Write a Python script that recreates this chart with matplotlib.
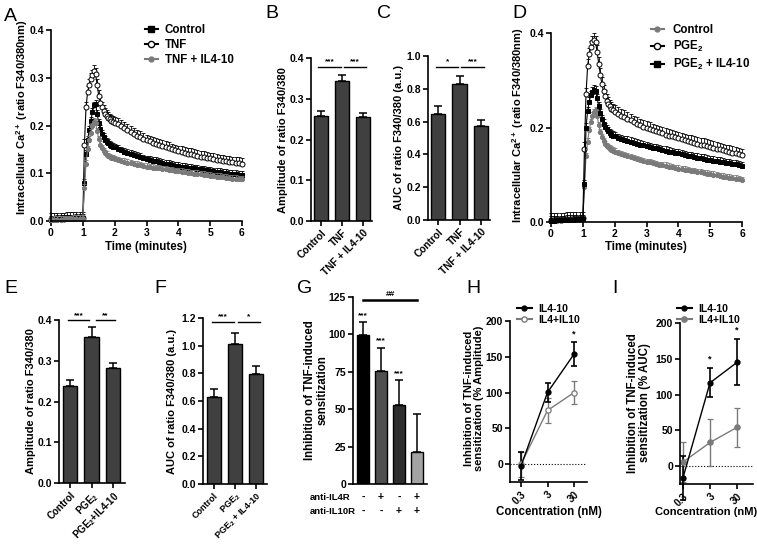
import numpy as np
import matplotlib
matplotlib.use("Agg")
import matplotlib.pyplot as plt
from matplotlib.lines import Line2D

plt.rcParams['font.family'] = ['Liberation Sans', 'DejaVu Sans']
plt.rcParams['font.weight'] = 'bold'
plt.rcParams['axes.labelweight'] = 'bold'
plt.rcParams['mathtext.fontset'] = 'custom'
plt.rcParams['mathtext.rm'] = 'Liberation Sans:bold'
plt.rcParams['mathtext.bf'] = 'Liberation Sans:bold'
plt.rcParams['mathtext.default'] = 'bf'

# ---- time course data (minutes) ----
t = np.round(np.concatenate([np.arange(0, 1.01, 0.1),
                             np.arange(1.05, 2.01, 0.05),
                             np.arange(2.1, 6.01, 0.1)]), 2)

a_control = [0.003, 0.003, 0.004, 0.004, 0.004, 0.005, 0.005, 0.005, 0.006, 0.006, 0.006,
             0.080, 0.140, 0.170, 0.190, 0.210, 0.228, 0.242, 0.245, 0.225, 0.205, 0.193, 0.183, 0.176, 0.170,
             0.166, 0.163, 0.160, 0.158, 0.156, 0.154,
             .151, .148, .145, .143, .141, .138, .136, .134, .131, .129, .128, .126, .125, .123, .122, .120,
             .119, .118, .116, .115, .114, .113, .112, .111, .110, .109, .108, .107, .106, .105, .104, .103,
             .102, .101, .100, .099, .098, .098, .097, .096]
a_tnf = [0.004, 0.004, 0.005, 0.005, 0.005, 0.006, 0.006, 0.006, 0.007, 0.007, 0.007,
         0.160, 0.238, 0.270, 0.285, 0.297, 0.305, 0.314, 0.308, 0.285, 0.262, 0.248, 0.238, 0.230, 0.224,
         0.220, 0.216, 0.213, 0.210, 0.208, 0.206,
         .203, .199, .195, .191, .187, .183, .179, .176, .172, .169, .167, .164, .162, .159, .157, .155,
         .153, .150, .148, .146, .145, .143, .141, .140, .138, .137, .135, .134, .132, .131, .130, .128,
         .127, .126, .125, .124, .123, .122, .121, .120]
a_tnf_il = [0.002, 0.003, 0.003, 0.003, 0.004, 0.004, 0.004, 0.005, 0.005, 0.005, 0.005,
            0.070, 0.120, 0.150, 0.170, 0.185, 0.198, 0.208, 0.206, 0.188, 0.172, 0.160, 0.152, 0.146, 0.142,
            0.139, 0.136, 0.134, 0.132, 0.131, 0.129,
            .127, .125, .124, .122, .121, .119, .118, .117, .115, .114, .113, .112, .111, .110, .109, .108,
            .107, .106, .105, .104, .103, .102, .101, .100, .099, .099, .098, .097, .096, .095, .094, .093,
            .093, .092, .091, .090, .089, .089, .088, .087]
a_sem = [0.008, 0.012, 0.007]

d_control = [0.002, 0.003, 0.002, 0.003, 0.004, 0.004, 0.004, 0.005, 0.005, 0.005, 0.006,
             0.075, 0.140, 0.170, 0.195, 0.212, 0.225, 0.233, 0.236, 0.225, 0.205, 0.190, 0.179, 0.171, 0.165,
             0.161, 0.158, 0.155, 0.153, 0.151, 0.149,
             .146, .143, .141, .139, .137, .135, .133, .131, .129, .127, .126, .124, .123, .121, .120, .119,
             .117, .116, .114, .113, .112, .111, .109, .108, .107, .106, .105, .104, .102, .101, .100, .099,
             .097, .096, .095, .094, .093, .092, .090, .089]
d_pge = [0.005, 0.005, 0.006, 0.006, 0.006, 0.007, 0.007, 0.007, 0.008, 0.008, 0.008,
         0.155, 0.270, 0.330, 0.355, 0.370, 0.380, 0.385, 0.380, 0.360, 0.335, 0.312, 0.292, 0.277, 0.266,
         0.257, 0.250, 0.245, 0.240, 0.236, 0.233,
         .229, .225, .222, .218, .215, .211, .208, .205, .202, .199, .197, .194, .192, .190, .188, .185,
         .183, .181, .179, .177, .175, .173, .171, .170, .168, .166, .164, .163, .161, .159, .157, .155,
         .154, .152, .150, .149, .147, .145, .143, .141]
d_pge_il = [0.003, 0.003, 0.004, 0.004, 0.004, 0.005, 0.005, 0.005, 0.006, 0.006, 0.006,
            0.080, 0.200, 0.235, 0.255, 0.268, 0.276, 0.280, 0.278, 0.262, 0.245, 0.230, 0.218, 0.208, 0.201,
            0.196, 0.192, 0.188, 0.185, 0.183, 0.181,
            .178, .176, .174, .172, .170, .168, .166, .164, .163, .161, .159, .157, .156, .154, .152, .151,
            .149, .148, .146, .145, .143, .142, .140, .139, .137, .136, .135, .134, .132, .131, .130, .129,
            .128, .126, .125, .124, .123, .122, .120, .119]
d_sem = [0.007, 0.014, 0.009]

# ---- bar data ----
b_labels = ['Control', 'TNF', 'TNF + IL4-10']
b_vals = [0.258, 0.343, 0.254]
b_err = [0.013, 0.016, 0.012]
c_vals = [0.649, 0.831, 0.575]
c_err = [0.046, 0.047, 0.037]
e_labels = ['Control', r'PGE$_2$', r'PGE$_2$+IL4-10']
e_vals = [0.238, 0.359, 0.281]
e_err = [0.015, 0.023, 0.014]
f_labels = ['Control', r'PGE$_2$', r'PGE$_2$ + IL4-10']
f_vals = [0.629, 1.015, 0.797]
f_err = [0.055, 0.079, 0.053]
g_vals = [99.8, 75.3, 53.1, 21.6]
g_err = [8.4, 15.8, 16.2, 25.4]
g_colors = ['#000000', '#505050', '#2e2e2e', '#a3a3a3']
g_il4r = ['-', '+', '-', '+']
g_il10r = ['-', '-', '+', '+']

# ---- dose response ----
conc = [0.3, 3, 30]
conc_labels = ['0.3', '3', '30']
h_fused = [-2.8, 100.2, 153.8]
h_fused_err = [19.5, 13.5, 16.5]
h_mix = [0.0, 75.0, 100.0]
h_mix_err = [17.5, 17.5, 16.0]
i_fused = [-16.4, 116.4, 145.0]
i_fused_err = [31.0, 20.3, 32.0]
i_mix = [5.6, 33.0, 54.2]
i_mix_err = [27.5, 32.5, 27.5]

W, H = 757, 544
fig = plt.figure(figsize=(W / 100, H / 100), dpi=100)


def add_ax(l, r, top, b):
    return fig.add_axes([l / W, 1 - b / H, (r - l) / W, (b - top) / H])


def style(ax):
    for s in ['top', 'right']:
        ax.spines[s].set_visible(False)
    for s in ['left', 'bottom']:
        ax.spines[s].set_linewidth(1.2)
    ax.tick_params(direction='out', length=3.5, width=1.2, labelsize=7.5, pad=1.5)


def ylab(x, y, s, size=8):
    fig.text(x / W, 1 - y / H, s, rotation=90, ha='center', va='center',
             fontsize=size, fontweight='bold', linespacing=1.1)


def xlab(x, y, s, size=8.3):
    fig.text(x / W, 1 - y / H, s, ha='center', va='center', fontsize=size, fontweight='bold')


def letter(x, y, s):
    fig.text(x / W, 1 - y / H, s, ha='left', va='top', fontsize=14, fontweight='normal')


def trace(ax, y, sem, marker, mfc, color, ms):
    y = np.array(y)
    ax.errorbar(t, y, yerr=[np.zeros_like(y), np.full_like(y, sem)], fmt='none', ecolor=color,
                elinewidth=0.6, capsize=1.3, capthick=0.6, clip_on=False)
    ax.plot(t, y, marker=marker, color=color, mfc=mfc, mec=color, ms=ms, lw=0.8, mew=0.7, clip_on=False)


def time_panel(ax, series, ymax, yticks):
    style(ax)
    for y, sem, mk, mfc, col, ms in series:
        trace(ax, y, sem, mk, mfc, col, ms)
    ax.set_xlim(0, 6)
    ax.set_ylim(0, ymax)
    ax.set_xticks(range(7))
    ax.set_yticks(yticks)
    ax.set_yticklabels(['%.1f' % v for v in yticks])


def bar_panel(ax, vals, errs, labels, ymax, yticks, fmt='%.1f', colors='#404040', width=0.66,
              xlim=(-0.47, 2.42), lsize=7.3):
    style(ax)
    x = np.arange(len(vals))
    ax.bar(x, vals, width=width, color=colors, edgecolor='black', linewidth=1)
    ax.errorbar(x, vals, yerr=[np.zeros(len(vals)), errs], fmt='none', ecolor='black',
                elinewidth=1.1, capsize=3, capthick=1.1)
    ax.set_xlim(*xlim)
    ax.set_ylim(0, ymax)
    ax.set_yticks(yticks)
    ax.set_yticklabels([fmt % v for v in yticks])
    ax.set_xticks(x)
    if labels is not None:
        ax.set_xticklabels(labels, rotation=45, ha='right', rotation_mode='anchor', fontsize=lsize)
    else:
        ax.set_xticklabels([])


def sig(ax, x0, x1, y, s, dy):
    ax.plot([x0, x1], [y, y], color='black', lw=1, clip_on=False)
    ax.text((x0 + x1) / 2, y + dy, s, ha='center', va='bottom', fontsize=6, fontweight='bold')


# ---- A ----
axA = add_ax(51, 242, 30, 221)
time_panel(axA, [(a_control, a_sem[0], 's', 'black', 'black', 3.2),
                 (a_tnf, a_sem[1], 'o', 'white', 'black', 3.6),
                 (a_tnf_il, a_sem[2], 'o', '#7a7a7a', '#7a7a7a', 3.0)],
           0.4, [0.0, 0.1, 0.2, 0.3, 0.4])
hA = [Line2D([], [], color='black', marker='s', ms=4, mfc='black'),
      Line2D([], [], color='black', marker='o', ms=4.5, mfc='white'),
      Line2D([], [], color='#7a7a7a', marker='o', ms=3.5, mfc='#7a7a7a')]
axA.legend(hA, ['Control', 'TNF', 'TNF + IL4-10'], loc='upper left', bbox_to_anchor=(145 / W, 1 - 24 / H),
           bbox_transform=fig.transFigure, frameon=False, fontsize=8.3, handlelength=1.1,
           handletextpad=0.6, labelspacing=0.25, borderaxespad=0, borderpad=0)
ylab(22, 117, 'Intracellular Ca$^{2+}$ (ratio F340/380nm)')
xlab(146, 247, 'Time (minutes)')

# ---- B ----
axB = add_ax(311, 372, 58, 221)
bar_panel(axB, b_vals, b_err, b_labels, 0.4, [0.0, 0.1, 0.2, 0.3, 0.4])
sig(axB, -0.12, 0.95, 0.378, '***', 0.004)
sig(axB, 1.08, 2.15, 0.378, '***', 0.004)
ylab(283, 140, 'Amplitude of ratio F340/380')

# ---- C ----
axC = add_ax(428, 490, 56, 220)
bar_panel(axC, c_vals, c_err, b_labels, 1.0, [0.0, 0.2, 0.4, 0.6, 0.8, 1.0])
sig(axC, -0.1, 0.95, 0.934, '*', 0.01)
sig(axC, 1.08, 2.15, 0.934, '***', 0.01)
ylab(399, 138, 'AUC of ratio F340/380 (a.u.)')

# ---- D ----
axD = add_ax(551, 742, 33, 222)
time_panel(axD, [(d_control, d_sem[0], 'o', '#7a7a7a', '#7a7a7a', 3.0),
                 (d_pge, d_sem[1], 'o', 'white', 'black', 3.6),
                 (d_pge_il, d_sem[2], 's', 'black', 'black', 3.2)],
           0.4, [0.0, 0.2, 0.4])
hD = [Line2D([], [], color='#7a7a7a', marker='o', ms=3.5, mfc='#7a7a7a'),
      Line2D([], [], color='black', marker='o', ms=4.5, mfc='white'),
      Line2D([], [], color='black', marker='s', ms=4, mfc='black')]
axD.legend(hD, ['Control', r'PGE$_2$', r'PGE$_2$ + IL4-10'], loc='upper left',
           bbox_to_anchor=(651 / W, 1 - 24 / H), bbox_transform=fig.transFigure, frameon=False,
           fontsize=8.3, handlelength=1.1, handletextpad=0.8, labelspacing=0.25, borderaxespad=0, borderpad=0)
ylab(518, 125, 'Intracellular Ca$^{2+}$ (ratio F340/380nm)')
xlab(646, 247, 'Time (minutes)')

# ---- E ----
axE = add_ax(59, 125, 320, 483)
bar_panel(axE, e_vals, e_err, e_labels, 0.4, [0.0, 0.1, 0.2, 0.3, 0.4], xlim=(-0.51, 2.55), lsize=7)
sig(axE, -0.1, 0.9, 0.399, '***', 0.004)
sig(axE, 1.2, 2.1, 0.399, '**', 0.004)
ylab(31, 401, 'Amplitude of ratio F340/380')

# ---- F ----
axF = add_ax(203, 267, 318, 484)
bar_panel(axF, f_vals, f_err, f_labels, 1.2, [0.0, 0.2, 0.4, 0.6, 0.8, 1.0, 1.2], xlim=(-0.5, 2.5),
          lsize=6.5)
sig(axF, -0.1, 0.95, 1.17, '***', 0.012)
sig(axF, 1.15, 2.15, 1.17, '*', 0.012)
ylab(172, 401, 'AUC of ratio F340/380 (a.u.)')

# ---- G ----
axG = add_ax(353, 427, 297, 484)
bar_panel(axG, g_vals, g_err, None, 125, [0, 25, 50, 75, 100, 125], fmt='%d',
          colors=g_colors, width=0.7, xlim=(-0.55, 3.55))
axG.tick_params(axis='x', length=0)
for i, v in enumerate(g_vals[:3]):
    axG.text(i, v + g_err[i] + 2, '***', ha='center', va='bottom', fontsize=6, fontweight='bold')
axG.plot([0, 3], [122.8, 122.8], color='black', lw=1.8, clip_on=False)
axG.text(1.5, 124.5, '##', ha='center', va='bottom', fontsize=6, fontweight='bold')
for i in range(4):
    fig.text((363 + 18 * i) / W, 1 - 497 / H, g_il4r[i], ha='center', va='center', fontsize=7.5, fontweight='bold')
    fig.text((363 + 18 * i) / W, 1 - 511 / H, g_il10r[i], ha='center', va='center', fontsize=7.5, fontweight='bold')
fig.text(310 / W, 1 - 497 / H, 'anti-IL4R', ha='left', va='center', fontsize=6.8, fontweight='bold')
fig.text(310 / W, 1 - 511 / H, 'anti-IL10R', ha='left', va='center', fontsize=6.8, fontweight='bold')
ylab(316, 390, 'Inhibition of TNF-induced\nsensitization', size=8.3)


# ---- H / I ----
def dose_panel(ax, fused, fused_err, mix, mix_err, mix_face, xlim, stars):
    style(ax)
    ax.axhline(0, color='black', lw=0.8, ls=':')
    ax.errorbar(conc, mix, yerr=mix_err, color='#7a7a7a', marker='o', mfc=mix_face, mec='#7a7a7a',
                ms=3.8, mew=0.9, lw=1, elinewidth=1, capsize=2.5, capthick=1, clip_on=False)
    ax.errorbar(conc, fused, yerr=fused_err, color='black', marker='o', mfc='black', ms=3.5,
                lw=1, elinewidth=1.2, capsize=2.5, capthick=1.2, clip_on=False)
    for c, y in stars:
        ax.text(c, y, '*', ha='center', va='center', fontsize=6.5, fontweight='bold')
    ax.set_xscale('log')
    ax.set_xlim(*xlim)
    ax.set_ylim(-25, 200)
    ax.set_yticks([0, 50, 100, 150, 200])
    ax.set_xticks(conc)
    ax.set_xticklabels(conc_labels, rotation=45, ha='right', rotation_mode='anchor', fontsize=7.3)
    ax.minorticks_off()


axH = add_ax(510, 587, 321, 482)
dose_panel(axH, h_fused, h_fused_err, h_mix, h_mix_err, 'white', (0.116, 92), [(30, 182)])
ylab(474, 398, 'Inhibition of TNF-induced\nsensitization (% Amplitude)', size=8)
xlab(549, 512, 'Concentration (nM)')

axI = add_ax(680, 753, 323, 484)
dose_panel(axI, i_fused, i_fused_err, i_mix, i_mix_err, '#7a7a7a', (0.233, 117), [(3, 150), (30, 190)])
ylab(639, 403, 'Inhibition of TNF-induced\nsensitization (% AUC)', size=8.3)
xlab(706, 512, 'Concentration (nM)', size=8)

hH = [Line2D([], [], color='black', marker='o', ms=3.5, mfc='black'),
      Line2D([], [], color='#7a7a7a', marker='o', ms=3.8, mfc='white')]
axH.legend(hH, ['IL4-10', 'IL4+IL10'], loc='upper left', bbox_to_anchor=(517 / W, 1 - 304 / H),
           bbox_transform=fig.transFigure, frameon=False, fontsize=7.5, handlelength=1.4,
           handletextpad=0.6, labelspacing=0.1, borderaxespad=0, borderpad=0)
hI = [Line2D([], [], color='black', marker='o', ms=3.5, mfc='black'),
      Line2D([], [], color='#7a7a7a', marker='o', ms=3.8, mfc='#7a7a7a')]
axI.legend(hI, ['IL4-10', 'IL4+IL10'], loc='upper left', bbox_to_anchor=(677 / W, 1 - 304 / H),
           bbox_transform=fig.transFigure, frameon=False, fontsize=7.5, handlelength=1.4,
           handletextpad=0.6, labelspacing=0.1, borderaxespad=0, borderpad=0)

for x, y, s in [(4, 8, 'A'), (265, 5, 'B'), (377, 5, 'C'), (512, 5, 'D'), (4, 280, 'E'),
                (154, 280, 'F'), (297, 280, 'G'), (466, 280, 'H'), (612, 280, 'I')]:
    letter(x, y, s)

fig.savefig('out.png', dpi=100)
